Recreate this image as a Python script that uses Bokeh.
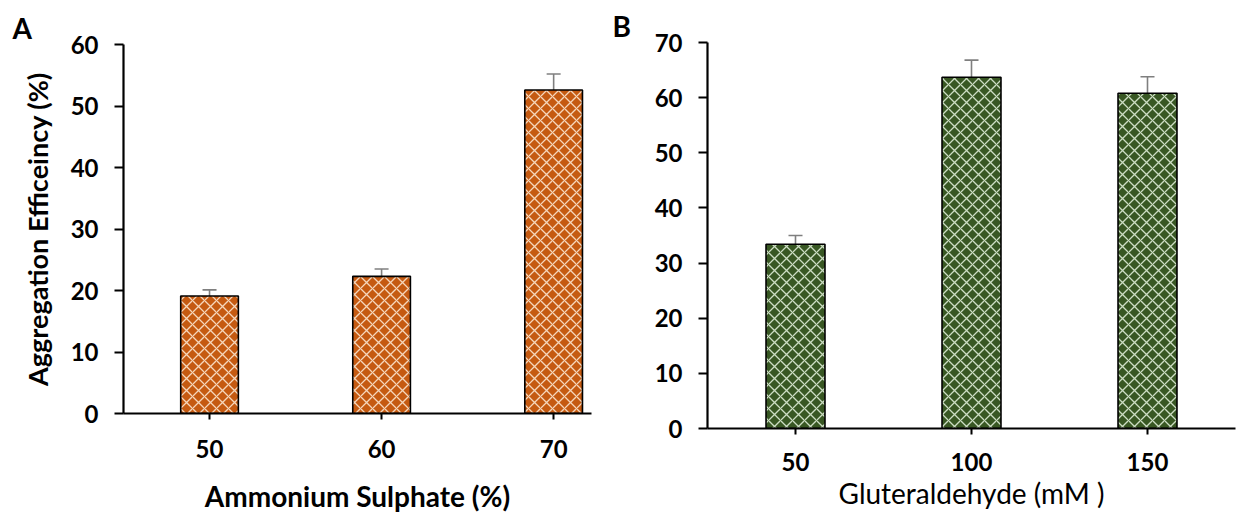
from bokeh.plotting import figure
from bokeh.layouts import row
from bokeh.models import ColumnDataSource, Range1d, FixedTicker, Whisker, TeeHead, Title
from bokeh.embed import file_html
from bokeh.resources import INLINE

# ---- data ----
cats_a = ["50", "60", "70"]
vals_a = [19.1, 22.3, 52.6]
errs_a = [1.0, 1.2, 2.6]

cats_b = ["50", "100", "150"]
vals_b = [33.4, 63.7, 60.8]
errs_b = [1.6, 3.1, 3.0]

FONT = "Lato"


def panel(cats, vals, errs, width, height, bl, br, bt, bb, xend, ymax, fill, hatch,
          xtitle, xtitle_style, ytitle, letter, letter_off, xstand, tstand):
    p = figure(width=width, height=height, output_backend="svg", toolbar_location=None,
               x_range=Range1d(0, xend), y_range=Range1d(0, ymax),
               min_border_left=bl, min_border_right=br, min_border_top=bt, min_border_bottom=bb)
    p.frame_align = False
    p.outline_line_color = None
    p.xgrid.visible = False
    p.ygrid.visible = False
    t = Title(text=letter, align="left", offset=letter_off, text_font=FONT, text_font_style="bold",
              text_font_size="28px", text_color="black", standoff=0)
    p.add_layout(t, "above")
    xs = [i + 0.5 for i in range(len(cats))]
    src = ColumnDataSource(dict(x=xs, top=vals, up=[v + e for v, e in zip(vals, errs)],
                                lo=[v - e for v, e in zip(vals, errs)]))
    p.vbar(x="x", top="top", width=0.335, source=src, fill_color=fill, line_color="black",
           line_width=1.6, hatch_pattern="diagonal_cross", hatch_color=hatch, hatch_scale=12,
           hatch_weight=1.3, hatch_alpha=0.9)
    w = Whisker(base="x", upper="up", lower="lo", source=src, line_color="#7f7f7f", line_width=1.6,
                upper_head=TeeHead(size=14, line_color="#7f7f7f", line_width=1.6),
                lower_head=TeeHead(size=14, line_color="#7f7f7f", line_width=1.6))
    p.add_layout(w)

    p.xaxis.ticker = FixedTicker(ticks=xs)
    p.xaxis.major_label_overrides = {x: c for x, c in zip(xs, cats)}
    p.yaxis.ticker = FixedTicker(ticks=list(range(0, ymax + 1, 10)))
    for ax in (p.xaxis, p.yaxis):
        ax.axis_line_width = 2.2
        ax.axis_line_color = "black"
        ax.major_tick_line_width = 2
        ax.major_tick_line_color = "black"
        ax.minor_tick_line_color = None
        ax.major_tick_in = 0
        ax.major_label_text_font = FONT
        ax.major_label_text_font_style = "bold"
        ax.major_label_text_font_size = "24px"
        ax.major_label_text_color = "black"
    p.xaxis.major_tick_out = 6
    p.yaxis.major_tick_out = 9
    p.xaxis.major_label_standoff = xstand
    p.yaxis.major_label_standoff = 16
    p.xaxis.axis_label = xtitle
    p.xaxis.axis_label_text_font = FONT
    p.xaxis.axis_label_text_font_style = xtitle_style
    p.xaxis.axis_label_text_font_size = "28px"
    p.xaxis.axis_label_text_color = "black"
    p.xaxis.axis_label_standoff = tstand
    if ytitle:
        p.yaxis.axis_label = ytitle
        p.yaxis.axis_label_text_font = FONT
        p.yaxis.axis_label_text_font_style = "bold"
        p.yaxis.axis_label_text_font_size = "27px"
        p.yaxis.axis_label_text_color = "black"
        p.yaxis.axis_label_standoff = 14
    return p


pa = panel(cats_a, vals_a, errs_a, 600, 520, 123, 9, 44, 107, 2.72, 60, "#C55A11", "#FBE3CC",
           "Ammonium Sulphate (%)", "bold", "Aggregation Efficeincy (%)", "A", -111, 20, 18)
pb = panel(cats_b, vals_b, errs_b, 636, 520, 107, 1, 42, 92, 3.0, 70, "#385723", "#DDEBD5",
           "Gluteraldehyde (mM )", "normal", None, "B", -95, 18, 2)

layout = row(pa, pb)
open("out.html", "w").write(file_html(layout, INLINE))
